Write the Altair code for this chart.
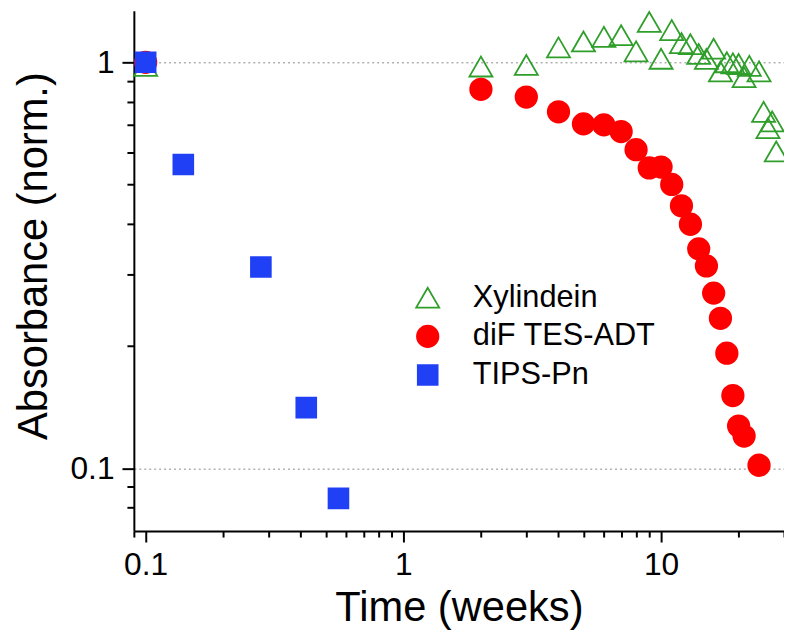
import altair as alt
import pandas as pd

# ---- data ----
series_names = ["Xylindein", "diF TES-ADT", "TIPS-Pn"]

xyl_time = [0.1, 2, 3, 4, 5, 6, 7, 8, 9, 10, 11, 12, 13, 14, 15, 16, 17, 18, 19, 20,
            21, 22, 24, 25, 26, 27, 28]
xyl_abs = [0.98, 0.976, 0.985, 1.088, 1.125, 1.155, 1.166, 1.064, 1.257, 1.02, 1.2,
           1.115, 1.108, 1.048, 1.019, 1.08, 0.949, 1.0, 0.994, 0.99, 0.919, 0.98,
           0.95, 0.755, 0.688, 0.715, 0.603]

dif_time = [0.1, 2, 3, 4, 5, 6, 7, 8, 9, 10, 11, 12, 13, 14, 15, 16, 17, 18, 19, 20, 21, 24]
dif_abs = [1.0, 0.858, 0.821, 0.755, 0.705, 0.701, 0.675, 0.609, 0.549, 0.552, 0.50,
           0.443, 0.399, 0.347, 0.315, 0.270, 0.234, 0.192, 0.151, 0.127, 0.120, 0.1017]

tips_time = [0.1, 0.14, 0.28, 0.42, 0.56]
tips_abs = [1.0, 0.56, 0.313, 0.141, 0.0843]

x_ticks = [0.09, 0.1, 0.2, 0.3, 0.4, 0.5, 0.6, 0.7, 0.8, 0.9, 1, 2, 3, 4, 5, 6, 7, 8, 9,
           10, 20, 30]
y_ticks = [0.08, 0.09, 0.1, 0.2, 0.3, 0.4, 0.5, 0.6, 0.7, 0.8, 0.9, 1]

rows = []
for name, xs, ys in [(series_names[0], xyl_time, xyl_abs),
                     (series_names[1], dif_time, dif_abs),
                     (series_names[2], tips_time, tips_abs)]:
    for xv, yv in zip(xs, ys):
        rows.append({"series": name, "time": xv, "abs": yv})
df = pd.DataFrame(rows)

FONT = "Liberation Sans"
major_test = "abs(log(datum.value)/LN10 - round(log(datum.value)/LN10)) < 1e-6"

legend = alt.Legend(
    title=None, orient="none", legendX=281, legendY=274,
    labelFontSize=31, labelFont=FONT, labelColor="black", labelLimit=400,
    labelOffset=30, rowPadding=7, symbolStrokeWidth=1.8, padding=0,
)

chart = alt.Chart(df).mark_point(opacity=1, strokeWidth=1.8).encode(
    x=alt.X("time:Q",
            scale=alt.Scale(type="log", domain=[0.09, 30], nice=False),
            axis=alt.Axis(
                title="Time (weeks)", values=x_ticks,
                labelExpr="indexof([0.1, 1, 10], datum.value) >= 0 ? datum.label : ''",
                tickSize={"condition": {"test": major_test, "value": 11}, "value": 6},
                labelPadding=8, titleY=90, titleBaseline="alphabetic",
                titleFontSize=42, grid=False)),
    y=alt.Y("abs:Q",
            scale=alt.Scale(type="log", domain=[0.07, 1.339], nice=False),
            axis=alt.Axis(
                title="Absorbance (norm.)", values=y_ticks,
                labelExpr="indexof([0.1, 1], datum.value) >= 0 ? datum.label : ''",
                tickSize={"condition": {"test": major_test, "value": 12}, "value": 7},
                gridOpacity={"condition": {"test": major_test, "value": 1}, "value": 0},
                grid=True, gridDash=[2, 3], gridColor="#888888", gridWidth=1,
                labelPadding=8, titleX=-88, titleY=247, titleBaseline="alphabetic",
                titleFontSize=42)),
    shape=alt.Shape("series:N", scale=alt.Scale(domain=series_names,
                    range=["triangle-up", "circle", "square"]), legend=legend,
                    sort=series_names),
    stroke=alt.Stroke("series:N", scale=alt.Scale(domain=series_names,
                      range=["#2f9e2a", "#ff0000", "#2040f5"]), legend=legend,
                      sort=series_names),
    fill=alt.Fill("series:N", scale=alt.Scale(domain=series_names,
                  range=["transparent", "#ff0000", "#2040f5"]), legend=legend,
                  sort=series_names),
    size=alt.Size("series:N", scale=alt.Scale(domain=series_names,
                  range=[540, 400, 330]), legend=legend, sort=series_names),
).properties(
    width=656, height=525,
    autosize=alt.AutoSizeParams(type="none"),
    padding={"left": 127, "top": 0, "right": 0, "bottom": 100},
).configure_view(
    strokeOpacity=0
).configure_axis(
    labelFont=FONT, titleFont=FONT, labelFontSize=32,
    titleFontWeight="normal", labelColor="black", titleColor="black",
    domainColor="black", domainWidth=2, tickColor="black", tickWidth=2,
)

chart.save("out.html", embed_options={"renderer": "svg", "actions": False})
